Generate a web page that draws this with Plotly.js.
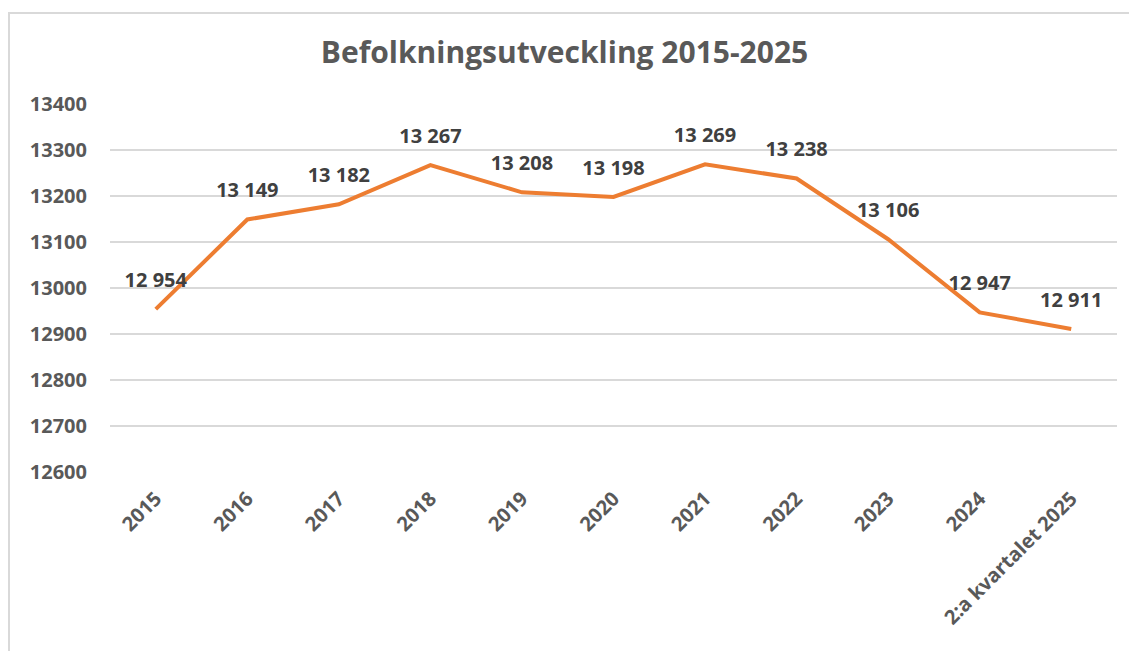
<!DOCTYPE html>
<html>
<head>
<meta charset="utf-8">
<script src="https://cdn.plot.ly/plotly-3.0.1.min.js"></script>
<style>
html,body{margin:0;padding:0;background:#fff;}
#frame{position:absolute;left:8px;top:12px;width:1140px;height:700px;border-left:2px solid #d9d9d9;border-top:2px solid #d9d9d9;box-sizing:border-box;}
#chart{position:absolute;left:0;top:0;width:1129px;height:651px;}
</style>
</head>
<body>
<div id="frame"></div>
<div id="chart"></div>
<script>
var categories = ["2015","2016","2017","2018","2019","2020","2021","2022","2023","2024","2:a kvartalet 2025"];
var population = [12954, 13149, 13182, 13267, 13208, 13198, 13269, 13238, 13106, 12947, 12911];
var yTicks = [12600, 12700, 12800, 12900, 13000, 13100, 13200, 13300, 13400];
var titleText = "Befolkningsutveckling 2015-2025";

function fmt(v){ var s = String(v); return s.slice(0, s.length-3) + " " + s.slice(-3); }

var fontFam = "'Open Sans', 'Liberation Sans', sans-serif";

var trace = {
  x: categories,
  y: population,
  type: "scatter",
  mode: "lines+markers+text",
  line: {color: "#ED7D31", width: 4},
  marker: {size: 26, color: "rgba(0,0,0,0)"},
  text: population.map(fmt),
  textposition: "top center",
  textfont: {family: fontFam, size: 20, color: "#404040", weight: "bold"},
  cliponaxis: false,
  hoverinfo: "skip"
};

var layout = {
  width: 1129, height: 651,
  paper_bgcolor: "rgba(0,0,0,0)",
  plot_bgcolor: "rgba(0,0,0,0)",
  margin: {l: 110, r: 12, t: 104, b: 179},
  showlegend: false,
  title: {
    text: "<b>" + titleText + "</b>",
    font: {family: fontFam, size: 30, color: "#595959"},
    x: 0.5, xanchor: "center", y: 0.92, yanchor: "middle"
  },
  xaxis: {
    type: "category",
    range: [-0.5, 10.5],
    tickangle: -45,
    tickfont: {family: fontFam, size: 20, color: "#595959", weight: "bold"},
    showgrid: false, zeroline: false, showline: false, ticks: "",
    ticklabelstandoff: 10
  },
  yaxis: {
    range: [12600, 13400],
    tickvals: yTicks,
    ticktext: yTicks.map(String),
    tickfont: {family: fontFam, size: 20, color: "#595959", weight: "bold"},
    showgrid: true, gridcolor: "#d9d9d9", gridwidth: 1.5,
    zeroline: false, showline: false, ticks: "", ticklabelstandoff: 22
  }
};

Plotly.newPlot("chart", [trace], layout, {displayModeBar: false, staticPlot: true});
</script>
</body>
</html>
